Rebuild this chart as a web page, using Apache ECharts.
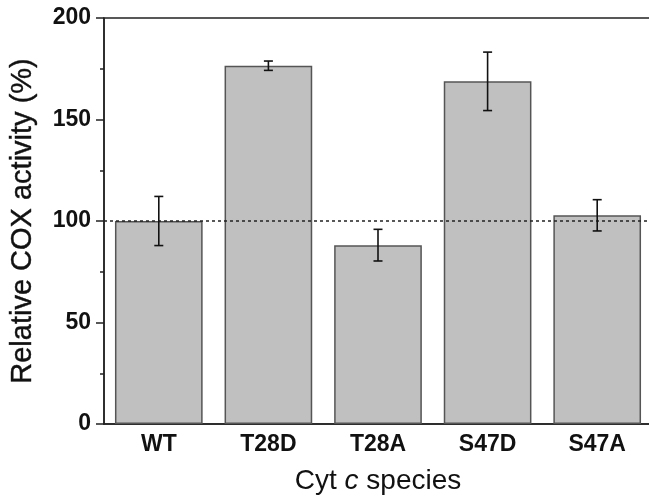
<!DOCTYPE html>
<html>
<head>
<meta charset="utf-8">
<script src="https://cdn.jsdelivr.net/npm/echarts@6/dist/echarts.min.js"></script>
<style>
  html, body { margin: 0; padding: 0; background: #fff; }
  #chart { width: 649px; height: 496px; }
</style>
</head>
<body>
<div id="chart"></div>
<script>
// values
const species = ['WT', 'T28D', 'T28A', 'S47D', 'S47A']
const activity = [100, 176.5, 88.1, 168.8, 102.8]
const errors = [12.1, 2.3, 7.8, 14.4, 7.7]
const yTicks = [0, 50, 100, 150, 200]
const refLevel = 100

const font = '"Liberation Sans", Arial, sans-serif'

const errData = activity.map(function(v, i) {
  return [i, v - errors[i], v + errors[i]]
})

const myChart = echarts.init(document.getElementById('chart'))

const option = {
  animation: false,
  grid: {
    left: 104,
    top: 18,
    width: 548,
    height: 406,
    outerBoundsMode: 'none',
    containLabel: false,
    show: true,
    borderColor: '#222',
    borderWidth: 1.5,
    backgroundColor: 'transparent'
  },
  xAxis: {
    type: 'category',
    data: species,
    axisLine: { lineStyle: { color: '#222', width: 1.5 } },
    axisTick: { show: false },
    axisLabel: {
      fontFamily: font, fontWeight: 'bold', fontSize: 23, color: '#111', margin: 9
    },
    name: '{a|Cyt }{b|c}{a| species}',
    nameLocation: 'middle',
    nameGap: 43,
    nameTextStyle: {
      rich: {
        a: { fontFamily: font, fontSize: 28, color: '#111' },
        b: { fontFamily: font, fontSize: 28, fontStyle: 'italic', color: '#111' }
      }
    }
  },
  yAxis: {
    type: 'value',
    min: yTicks[0],
    max: yTicks[yTicks.length - 1],
    interval: 50,
    splitLine: { show: false },
    axisLine: { show: true, lineStyle: { color: '#222', width: 1.5 } },
    axisTick: { show: true, inside: false, length: 8, lineStyle: { color: '#222', width: 1.5 } },
    minorTick: { show: true, splitNumber: 2, length: 4, lineStyle: { color: '#222', width: 1.5 } },
    axisLabel: {
      fontFamily: font, fontWeight: 'bold', fontSize: 23, color: '#111', margin: 13
    },
    name: 'Relative COX activity (%)',
    nameLocation: 'middle',
    nameGap: 67,
    nameTextStyle: { fontFamily: font, fontSize: 29, color: '#111', textBorderColor: '#111', textBorderWidth: 0.4 }
  },
  series: [{
    type: 'bar',
    data: activity,
    barCategoryGap: '20%',
    itemStyle: { color: '#c0c0c0', borderColor: '#555', borderWidth: 1.5 },
    markLine: {
      silent: true,
      symbol: 'none',
      label: { show: false },
      lineStyle: { color: '#222', type: [3, 3], width: 1.5 },
      data: [{ yAxis: refLevel }]
    }
  }, {
    type: 'custom',
    data: errData,
    z: 10,
    renderItem: function(params, api) {
      const lo = api.coord([api.value(0), api.value(1)])
      const hi = api.coord([api.value(0), api.value(2)])
      const cap = 4.5
      const style = { stroke: '#111', lineWidth: 1.6 }
      return {
        type: 'group',
        children: [
          { type: 'line', shape: { x1: hi[0], y1: hi[1], x2: lo[0], y2: lo[1] }, style: style },
          { type: 'line', shape: { x1: hi[0] - cap, y1: hi[1], x2: hi[0] + cap, y2: hi[1] }, style: style },
          { type: 'line', shape: { x1: lo[0] - cap, y1: lo[1], x2: lo[0] + cap, y2: lo[1] }, style: style }
        ]
      }
    }
  }]
}

myChart.setOption(option)
</script>
</body>
</html>
